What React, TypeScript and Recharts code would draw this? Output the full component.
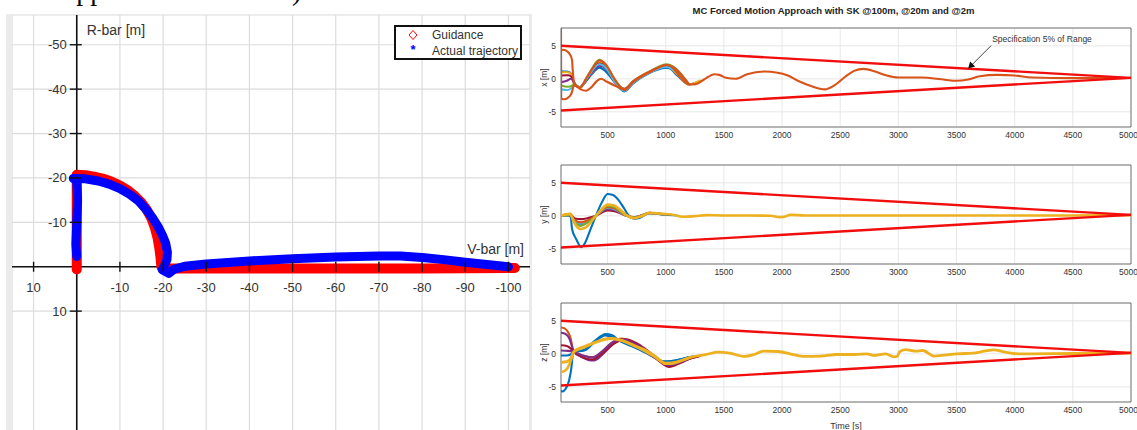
import React from 'react';
import {
  ComposedChart,
  LineChart,
  Line,
  XAxis,
  YAxis,
  CartesianGrid,
  ReferenceLine,
  ReferenceDot,
  ReferenceArea,
} from 'recharts';

const FONT = '"Liberation Sans", Arial, Helvetica, sans-serif';
const INK = '#333333';

// MATLAB default line colours
const C = {
  blue: '#0072BD',
  orange: '#D95319',
  yellow: '#EDB120',
  purple: '#7E2F8E',
  green: '#77AC30',
  cyan: '#4DBEEE',
  darkred: '#A2142F',
};

// ---------- left: approach in the LVLH plane ----------
const vbarTicks = [10, -10, -20, -30, -40, -50, -60, -70, -80, -90, -100];
const rbarTicks = [-50, -40, -30, -20, -10, 10];
const vbarGrid = [10, 0, -10, -20, -30, -40, -50, -60, -70, -80, -90, -100];
const rbarGrid = [-50, -40, -30, -20, -10, 0, 10];

const guidancePath = [
  { x: 0, y: 0.6 }, { x: 0, y: -10 }, { x: 0, y: -20.7 }, { x: -2, y: -20.6 },
  { x: -4, y: -20.3 }, { x: -6, y: -19.85 }, { x: -8, y: -19.2 }, { x: -10, y: -18.3 },
  { x: -12, y: -17.1 }, { x: -13.5, y: -15.9 }, { x: -15, y: -14.4 }, { x: -16.3, y: -12.7 },
  { x: -17.3, y: -10.9 }, { x: -18.1, y: -8.8 }, { x: -18.7, y: -6.6 }, { x: -19.1, y: -4.4 },
  { x: -19.4, y: -2.2 }, { x: -19.6, y: 0 }, { x: -20.5, y: 0.4 }, { x: -40, y: 0.4 },
  { x: -60, y: 0.4 }, { x: -80, y: 0.4 }, { x: -101.5, y: 0.3 },
];

const actualPath = [
  { x: -100, y: 0 }, { x: -95, y: -0.5 }, { x: -90, y: -1.0 }, { x: -85, y: -1.6 },
  { x: -80, y: -2.1 }, { x: -75, y: -2.4 }, { x: -70, y: -2.4 }, { x: -60, y: -2.2 },
  { x: -50, y: -1.8 }, { x: -40, y: -1.3 }, { x: -30, y: -0.6 }, { x: -25, y: -0.1 },
  { x: -22.5, y: 0.6 }, { x: -21.3, y: 1.5 }, { x: -19.8, y: 0.7 }, { x: -20.3, y: -0.2 },
  { x: -20.9, y: -1.6 }, { x: -21, y: -3.3 }, { x: -20.6, y: -5.3 }, { x: -19.8, y: -7.2 },
  { x: -18.8, y: -9.1 }, { x: -17.5, y: -11.1 }, { x: -16, y: -13 }, { x: -14.3, y: -14.8 },
  { x: -12.3, y: -16.3 }, { x: -10, y: -17.6 }, { x: -7.5, y: -18.6 }, { x: -5, y: -19.3 },
  { x: -2, y: -19.8 }, { x: 0.8, y: -19.9 }, { x: 0, y: -19.4 }, { x: -0.2, y: -15 },
  { x: 0, y: -10 }, { x: 0.2, y: -5 }, { x: 0, y: -2.3 },
];

// ---------- right: Monte Carlo runs ----------
const timeTicks = [500, 1000, 1500, 2000, 2500, 3000, 3500, 4000, 4500, 5000];
const offsetTicks = [-5, 0, 5];
const specUpper = [[100, 5.0], [5000, 0.15]];
const specLower = [[100, -4.8], [5000, 0.15]];
const specTip = { t: 3600, v: 1.55 };

const xBlue = [[100, 1.15], [150, 1.1], [180, 0.9], [195, 0.3], [210, -0.5], [235, -1.1], [260, -1.3], [300, -0.7], [360, 0.6], [430, 1.7], [480, 1.2], [560, -0.5], [645, -1.9], [720, -0.7], [850, 0.8], [1000, 1.65], [1030, 1.6], [1100, 0.5], [1200, -0.85], [1300, -0.3]];
const xYellow = [[100, 1.0], [160, 1.0], [190, 0.6], [205, -0.3], [230, -1.0], [260, -1.35], [320, -0.2], [380, 1.2], [430, 2.5], [490, 1.8], [560, -0.2], [645, -1.6], [720, -0.4], [850, 0.9], [1010, 2.0], [1100, 0.7], [1200, -0.85], [1300, -0.2]];
const xDarkred = [[100, 0.5], [160, 0.55], [190, 0.3], [210, -0.5], [240, -1.1], [260, -1.3], [320, -0.1], [430, 2.3], [490, 1.7], [560, -0.3], [645, -1.5], [720, -0.4], [850, 0.9], [1010, 2.0], [1200, -0.85]];
const xPurple = [[100, -0.5], [150, -0.3], [185, 0.0], [200, -0.2], [225, -1.0], [260, -1.3], [320, -0.2], [430, 2.0], [490, 1.5], [560, -0.4], [645, -1.75], [720, -0.5], [850, 0.85], [1010, 1.9], [1200, -0.85]];
const xGreen = [[100, -1.0], [160, -1.2], [190, -1.1], [210, -0.8], [240, -1.1], [265, -1.35], [320, 0.1], [430, 2.9], [490, 2.0], [560, -0.1], [645, -1.6], [720, -0.4], [850, 1.0], [1010, 2.2], [1200, -0.85]];
const xCyan = [[100, -1.6], [160, -1.7], [195, -1.3], [215, -0.9], [240, -1.1], [265, -1.35], [320, 0.0], [430, 2.2], [490, 1.6], [560, -0.4], [645, -1.8], [720, -0.6], [850, 0.8], [1000, 1.8], [1200, -0.85]];
const xOrangeHigh = [[100, 4.2], [115, 4.4], [150, 4.2], [180, 3.6], [195, 2.8], [200, 1.5], [205, 0.4], [215, -0.8], [240, -1.2], [270, -1.6], [315, -1.8], [360, -1.3], [410, -0.3], [445, 0.0], [490, -0.4], [560, -1.0], [645, -1.6], [720, -0.5], [850, 0.9], [1010, 2.1], [1200, -0.85]];
const xOrange = [[100, 8.5], [101.5, -2.95], [130, -3.1], [165, -2.8], [190, -2.2], [200, -1.6], [212, -1.0], [235, -1.1], [262, -1.35], [320, 0.2], [380, 1.8], [430, 2.8], [480, 2.3], [560, 0.0], [645, -1.7], [720, -0.4], [850, 1.0], [950, 1.8], [1010, 2.1], [1060, 1.7], [1120, 0.4], [1200, -0.85], [1260, -0.8], [1330, -0.1], [1420, 0.7], [1460, 0.6], [1520, 0.15], [1600, 0.0], [1700, 0.7], [1850, 1.1], [1950, 0.95], [2050, 0.5], [2150, -0.4], [2250, -1.1], [2370, -1.6], [2450, -1.0], [2550, 0.4], [2620, 1.2], [2700, 1.5], [2800, 1.1], [2900, 0.5], [3000, 0.2], [3200, 0.2], [3400, -0.15], [3500, -0.3], [3600, -0.1], [3700, 0.4], [3850, 0.6], [4000, 0.5], [4150, 0.2], [4500, 0.1], [5000, 0.15]];

const yBlue = [[100, 0], [175, 0.05], [185, -0.3], [195, -2.0], [230, -3.5], [275, -4.75], [300, -4.3], [350, -2.2], [400, 0], [450, 2.0], [500, 3.3], [540, 3.2], [590, 2.5], [640, 1.2], [680, 0.1], [730, -0.45], [780, -0.3], [820, 0.1], [860, 0.45], [920, 0.35], [1000, 0.15], [1100, 0.05]];
const yPurple = [[100, 0], [180, 0.1], [220, -0.8], [270, -1.3], [330, -0.9], [400, 0], [500, 1.0], [560, 0.9], [650, 0.1], [730, -0.25], [860, 0.4], [1000, 0.15]];
const yGreen = [[100, 0], [180, 0.15], [220, -1.0], [270, -1.55], [330, -1.0], [400, 0], [500, 1.5], [560, 1.3], [650, 0.2], [730, -0.3], [860, 0.45], [1000, 0.2]];
const yOrange = [[100, 0], [180, 0.3], [215, -0.6], [270, -1.0], [330, -0.7], [400, 0], [500, 1.3], [560, 1.1], [650, 0.15], [730, -0.3], [860, 0.45], [1000, 0.2]];
const yDarkred = [[100, 0], [180, 0.1], [220, -0.4], [270, -0.5], [330, -0.35], [400, 0], [500, 0.8], [560, 0.7], [650, 0.1], [730, -0.2], [860, 0.4], [1000, 0.2]];
const yCyan = [[100, 0], [180, 0.1], [220, -0.9], [270, -1.2], [330, -0.8], [400, 0], [500, 1.2], [560, 1.0], [650, 0.1], [730, -0.3], [860, 0.4], [1000, 0.15]];
const yYellow = [[100, 0.05], [180, 0.3], [200, -0.5], [230, -1.5], [270, -2.0], [310, -1.8], [360, -0.9], [400, 0], [450, 1.0], [500, 1.7], [550, 1.6], [610, 0.9], [660, 0.1], [730, -0.35], [800, 0.0], [860, 0.45], [950, 0.35], [1050, 0.2], [1150, -0.15], [1250, -0.05], [1350, 0.1], [1500, 0.05], [1700, 0.05], [1900, 0.0], [1980, -0.2], [2030, -0.1], [2070, 0.15], [2200, 0.05], [2500, 0.05], [3000, 0.05], [3500, 0.05], [4000, 0.05], [4500, 0.05], [5000, 0.1]];

const zOrange = [[100, 4.0], [130, 3.85], [160, 3.3], [185, 2.2], [200, 0.8], [210, 0.3], [260, -0.1], [320, -0.4], [380, -0.5], [450, 0.3], [530, 1.6], [620, 2.3], [700, 1.8], [800, 0.7], [900, -0.5], [1000, -1.6], [1040, -1.75], [1100, -1.4], [1200, -0.7], [1300, -0.3]];
const zPurple = [[100, 3.2], [140, 3.0], [175, 2.2], [200, 0.8], [210, 0.3], [270, -0.4], [340, -0.95], [385, -1.0], [450, -0.2], [530, 1.2], [615, 2.2], [700, 1.9], [800, 0.8], [900, -0.5], [1030, -1.9], [1100, -1.5], [1200, -0.8], [1300, -0.3]];
const zDarkred = [[100, 1.3], [150, 1.2], [190, 0.7], [210, 0.3], [280, -0.5], [370, -0.85], [450, 0.0], [560, 1.6], [660, 2.2], [760, 1.5], [880, 0.0], [1030, -2.0], [1100, -1.6], [1200, -0.8], [1300, -0.3]];
const zPurpleLow = [[100, 0.5], [160, 0.45], [200, 0.35], [280, -0.2], [370, -0.55], [450, 0.3], [560, 1.9], [650, 2.1], [760, 1.3], [900, -0.3], [1020, -1.7], [1200, -0.7]];
const zBlue = [[100, -0.25], [150, -0.25], [190, 0.0], [210, 0.3], [300, 0.6], [380, 1.8], [485, 3.0], [540, 2.8], [600, 2.0], [700, 1.2], [800, 0.4], [900, -0.5], [990, -1.15], [1080, -1.0], [1150, -0.75], [1250, -0.35]];
const zBlueLow = [[100, -5.6], [115, -5.7], [140, -5.3], [170, -4.0], [190, -2.0], [200, -0.3], [210, 0.3], [300, 0.5], [380, 1.6], [480, 2.8], [600, 2.0], [800, 0.5], [1000, -1.2], [1200, -0.5]];
const zYellowLow = [[100, -2.8], [140, -2.5], [175, -1.5], [200, -0.2], [210, 0.3], [300, 1.0], [400, 1.8], [500, 2.3], [600, 2.1], [700, 1.5], [800, 0.6], [900, -0.4], [1000, -1.4], [1100, -1.2], [1200, -0.6]];
const zYellow = [[100, -1.3], [150, -1.2], [190, -0.5], [210, 0.3], [270, 0.9], [340, 1.35], [430, 1.9], [530, 2.35], [630, 2.0], [730, 1.2], [830, 0.5], [920, -0.5], [1000, -1.5], [1050, -1.5], [1100, -1.25], [1220, -0.5], [1350, -0.1], [1450, 0.25], [1550, 0.1], [1680, -0.4], [1760, -0.1], [1840, 0.4], [1970, 0.35], [2070, 0.0], [2200, -0.4], [2330, -0.35], [2470, -0.1], [2630, -0.1], [2730, 0.0], [2790, -0.25], [2890, 0.0], [2960, -0.45], [2990, -0.4], [3010, 0.3], [3060, 0.65], [3150, 0.4], [3210, 0.5], [3310, -0.35], [3375, -0.25], [3505, 0.0], [3640, 0.1], [3740, 0.4], [3820, 0.6], [3920, 0.25], [4035, 0.0], [4500, 0.05], [5000, 0.1]];

const toPts = (rows: number[][]) => rows.map(([t, v]) => ({ t, v }));

type Run = { color: string; rows: number[][]; width?: number };

const xRuns: Run[] = [
  { color: C.blue, rows: xBlue }, { color: C.yellow, rows: xYellow }, { color: C.darkred, rows: xDarkred },
  { color: C.purple, rows: xPurple }, { color: C.cyan, rows: xCyan }, { color: C.green, rows: xGreen },
  { color: C.orange, rows: xOrangeHigh }, { color: C.orange, rows: xOrange },
];
const yRuns: Run[] = [
  { color: C.blue, rows: yBlue }, { color: C.darkred, rows: yDarkred }, { color: C.purple, rows: yPurple },
  { color: C.cyan, rows: yCyan }, { color: C.orange, rows: yOrange }, { color: C.green, rows: yGreen },
  { color: C.yellow, rows: yYellow, width: 2.6 },
];
const zRuns: Run[] = [
  { color: C.blue, rows: zBlueLow }, { color: C.blue, rows: zBlue }, { color: C.orange, rows: zOrange },
  { color: C.purple, rows: zPurple }, { color: C.darkred, rows: zDarkred }, { color: C.purple, rows: zPurpleLow },
  { color: C.yellow, rows: zYellowLow, width: 2.6 }, { color: C.yellow, rows: zYellow, width: 2.8 },
];

const tickStyle = { fontSize: 8.5, fill: INK, fontFamily: FONT };
const bigText = { fontSize: 13, fill: INK, fontFamily: FONT };
const nameText = { fontSize: 14, fill: INK, fontFamily: FONT };

function McPanel({ top, runs, label, timeLabel, annotate }: {
  top: number; runs: Run[]; label: string; timeLabel?: boolean; annotate?: boolean;
}) {
  const xh = timeLabel ? 28 : 20;
  return (
    <div style={{ position: 'absolute', left: 540, top }}>
      <LineChart width={597} height={8 + 99 + xh} margin={{ top: 8, right: 6, bottom: 0, left: 0 }}>
        <CartesianGrid stroke="#e2e2e2" strokeWidth={0.8} />
        <XAxis
          type="number" dataKey="t" domain={[100, 5000]} ticks={timeTicks} allowDataOverflow
          tickLine={false} axisLine={false} tickSize={0} tickMargin={5} height={xh} tick={tickStyle}
          label={timeLabel ? { value: 'Time [s]', position: 'insideBottom', offset: 1, style: { ...tickStyle, fontSize: 9 } } : undefined}
        />
        <YAxis
          type="number" domain={[-7.3, 7.7]} ticks={offsetTicks} allowDataOverflow width={21}
          tickLine={false} axisLine={false} tickSize={0} tickMargin={5} tick={tickStyle}
          label={{ value: label, angle: -90, position: 'insideLeft', offset: 4, style: { ...tickStyle, textAnchor: 'middle' } }}
        />
        {runs.map((r, i) => (
          <Line key={i} data={toPts(r.rows)} dataKey="v" type="monotone" stroke={r.color}
            strokeWidth={r.width ?? 2.1} dot={false} isAnimationActive={false} />
        ))}
        <Line data={toPts(specUpper)} dataKey="v" type="linear" stroke="#f20d0d" strokeWidth={2.4} dot={false} isAnimationActive={false} />
        <Line data={toPts(specLower)} dataKey="v" type="linear" stroke="#f20d0d" strokeWidth={2.4} dot={false} isAnimationActive={false} />
        <ReferenceArea x1={100} x2={5000} y1={-7.3} y2={7.7} fill="none" stroke="#555" strokeWidth={0.8} />
        {annotate && (
          <ReferenceDot
            x={specTip.t} y={specTip.v} r={0}
            shape={(p: any) => (
              <g>
                <line x1={p.cx + 3} y1={p.cy - 3} x2={p.cx + 23} y2={p.cy - 23} stroke="#111" strokeWidth={0.8} />
                <polygon points={`${p.cx},${p.cy} ${p.cx + 2},${p.cy - 7} ${p.cx + 7},${p.cy - 2}`} fill="#111" />
                <text x={p.cx + 24} y={p.cy - 30} dominantBaseline="central" style={tickStyle}>
                  Specification 5% of Range
                </text>
              </g>
            )}
          />
        )}
      </LineChart>
    </div>
  );
}

function ApproachPanel() {
  return (
    <>
      <div style={{ position: 'absolute', left: 6, top: 14, width: 526, height: 420, background: '#ebebeb' }} />
      <div style={{ position: 'absolute', left: 12, top: 15 }}>
        <ComposedChart width={518} height={424} margin={{ top: 0, right: 0, bottom: 0, left: 0 }}>
          <CartesianGrid fill="#ffffff" stroke="#dcdcdc" strokeWidth={1.2} />
          <XAxis type="number" dataKey="x" domain={[-105, 15]} reversed ticks={vbarGrid} hide allowDataOverflow />
          <YAxis type="number" dataKey="y" domain={[-56.7, 38.8]} reversed ticks={rbarGrid} hide allowDataOverflow />
          <ReferenceLine x={0} stroke="#111" strokeWidth={1.6}
            label={{ value: 'R-bar [m]', position: 'insideTopLeft', offset: 10, style: nameText }} />
          <ReferenceLine y={0} stroke="#111" strokeWidth={1.6}
            label={{
              content: ({ viewBox }: any) => (
                <text x={viewBox.x + viewBox.width - 6} y={viewBox.y - 18} textAnchor="end"
                  dominantBaseline="central" style={nameText}>V-bar [m]</text>
              ),
            }} />
          <Line data={guidancePath} dataKey="y" type="linear" stroke="#ff0000" strokeWidth={10}
            strokeLinecap="round" strokeLinejoin="round" dot={false} isAnimationActive={false} />
          <Line data={actualPath} dataKey="y" type="linear" stroke="#0000ff" strokeWidth={9}
            strokeLinecap="round" strokeLinejoin="round" dot={false} isAnimationActive={false} />
          {vbarTicks.map((t) => (
            <ReferenceDot key={`v${t}`} x={t} y={0} r={0}
              shape={(p: any) => (
                <g>
                  <line x1={p.cx} y1={p.cy - 5} x2={p.cx} y2={p.cy + 5} stroke="#111" strokeWidth={1.4} />
                  <text x={p.cx} y={p.cy + 21} textAnchor="middle" dominantBaseline="central" style={bigText}>{t}</text>
                </g>
              )} />
          ))}
          {rbarTicks.map((t) => (
            <ReferenceDot key={`r${t}`} x={0} y={t} r={0}
              shape={(p: any) => (
                <g>
                  <line x1={p.cx - 7} y1={p.cy} x2={p.cx + 5} y2={p.cy} stroke="#111" strokeWidth={1.4} />
                  <text x={p.cx - 10} y={p.cy} textAnchor="end" dominantBaseline="central" style={bigText}>{t}</text>
                </g>
              )} />
          ))}
        </ComposedChart>
      </div>
      <div style={{ position: 'absolute', left: 394, top: 25, width: 128, height: 35, boxSizing: 'border-box', border: '2px solid #111', background: '#fff' }}>
        <svg width={124} height={31} style={{ display: 'block' }}>
          <polygon points="17,3.5 21,8 17,12.5 13,8" fill="none" stroke="#ff0000" strokeWidth={1} />
          <text x={36} y={8} dominantBaseline="central" style={{ fontSize: 12, fill: INK, fontFamily: FONT }}>Guidance</text>
          <text x={17} y={27} textAnchor="middle" style={{ fontSize: 13, fill: '#0000ff', fontFamily: FONT, fontWeight: 700 }}>*</text>
          <text x={36} y={24} dominantBaseline="central" style={{ fontSize: 12, fill: INK, fontFamily: FONT }}>Actual trajectory</text>
        </svg>
      </div>
    </>
  );
}

export default function App() {
  return (
    <div style={{ position: 'absolute', left: 0, top: 0, width: 1137, height: 430, overflow: 'hidden', background: '#fff', fontFamily: FONT }}>
      <svg width={330} height={12} style={{ position: 'absolute', left: 0, top: 0 }}>
        <text x={56} y={-0.5} style={{ fontFamily: '"Liberation Serif", "Times New Roman", serif', fontSize: 28, fill: '#000' }}>Approach</text>
        <text x={292} y={-0.5} style={{ fontFamily: '"Liberation Serif", "Times New Roman", serif', fontSize: 28, fill: '#000' }}>)</text>
      </svg>
      <ApproachPanel />
      <div style={{ position: 'absolute', left: 540, top: 5, width: 587, textAlign: 'center', fontSize: 9.5, fontWeight: 700, color: '#222', lineHeight: '12px' }}>
        MC Forced Motion Approach with SK @100m, @20m and @2m
      </div>
      <McPanel top={20} runs={xRuns} label="x [m]" annotate />
      <McPanel top={157} runs={yRuns} label="y [m]" />
      <McPanel top={295} runs={zRuns} label="z [m]" timeLabel />
    </div>
  );
}
